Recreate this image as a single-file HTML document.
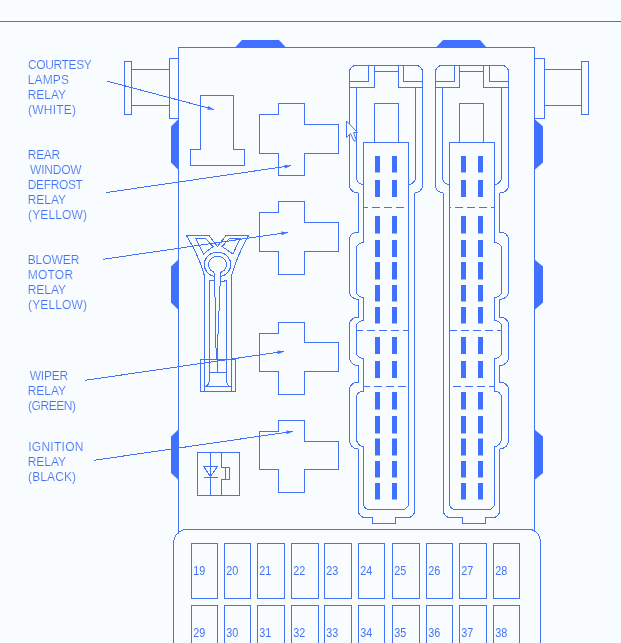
<!DOCTYPE html>
<html><head><meta charset="utf-8"><title>Fuse box relay diagram</title>
<style>
html,body{margin:0;padding:0;background:#f9fcff;}
body{width:621px;height:643px;overflow:hidden;position:relative;}
svg{position:absolute;left:0;top:0;display:block;will-change:transform;opacity:0.999;}
.ln{fill:none;stroke:#4272f6;stroke-width:1;shape-rendering:crispEdges;}
.fl{fill:#4070ff;stroke:none;}
text{font-family:"Liberation Sans",Arial,sans-serif;font-size:12px;fill:#4272f6;stroke:#f9fcff;stroke-width:0.15px;paint-order:fill stroke;}
text.n{stroke:none;}
</style></head><body>
<svg width="621" height="643" viewBox="0 0 621 643">
<rect x="0" y="0" width="621" height="643" fill="#f9fcff"/>
<path class="ln" d="M0,21.5 H621"/>
<g class="fl">
<polygon points="234.5,48 242,40 279,40 286.5,48"/>
<polygon points="435.5,48 443,40 480,40 487,48"/>
<polygon points="178.5,119 171,126.5 171,162.5 178.5,170"/>
<polygon points="534.5,119 543,126.5 543,162.5 534.5,170"/>
<polygon points="178.5,259.5 171,266.5 171,302.5 178.5,310"/>
<polygon points="534.5,259.5 543,266.5 543,302.5 534.5,310"/>
<polygon points="178.5,429.5 171,436.5 171,473 178.5,480"/>
<polygon points="534.5,429.5 543,436.5 543,473 534.5,480"/>
</g>
<path class="ln" d="M178.5,533.5 V47.5 H534.5 V532"/>
<path class="ln" d="M173.5,650 V543.5 A13,14 0 0 1 186.5,529.5 H529.5 A11,13 0 0 1 540.5,542.5 V650"/>
<path class="ln" d="M124.5,61.5 H131.5 V114.5 H124.5 Z M131.5,69.5 H169.5 M131.5,105.5 H169.5 M178.5,58.5 H169.5 V118.5 H178.5"/>
<path class="ln" d="M588.5,61.5 H581.5 V114.5 H588.5 Z M581.5,69.5 H544.5 M581.5,105.5 H544.5 M534.5,58.5 H544.5 V118.5 H534.5"/>
<path class="ln" d="M200.5,95.5 H233.5 V149.5 H244.5 V165.5 H190.5 V149.5 H200.5 Z"/>
<path class="ln" d="M278.5,103.5 H304.5 V124.5 H338.5 V153.5 H304.5 V175.5 H278.5 V153.5 H259.5 V114.5 H278.5 Z"/>
<path class="ln" d="M278.5,201.5 H304.5 V222.5 H338.5 V251.5 H304.5 V274.5 H278.5 V251.5 H259.5 V212.5 H278.5 Z"/>
<path class="ln" d="M278.5,322.5 H304.5 V342.5 H338.5 V371.5 H304.5 V394.5 H278.5 V371.5 H259.5 V333.5 H278.5 Z"/>
<path class="ln" d="M278.5,420.5 H304.5 V441.5 H338.5 V469.5 H304.5 V492.5 H278.5 V469.5 H259.5 V431.5 H278.5 Z"/>
<g class="ln">
<path d="M186.5,235.5 H209 L217.5,246.5 L226,235.5 H248.5 Q236,258 231.5,276 V391.5 M186.5,235.5 Q200,258 204.500,276 V391.5"/>
<path d="M196,238.5 H205.5 L213,246.5 L203.5,254 Z M229.5,238.5 H240 L233,254 L222,246.500 Z"/>
<path d="M214.5,276.500 A13.25,12.3 0 1 1 220.500,276.500"/>
<path d="M214.5,272.500 A8.9,8.3 0 1 1 220.500,272.500"/>
<path d="M214.5,280.5 H209.5 V379 Q209.5,384.500 206,386.500 M220.500,282 L226.5,280.5 V379 Q226.5,384.500 229.5,386.500 M209.5,372.5 H226.5"/>
<path d="M214.5,272.5 V297 M215.500,297 V348 M216.500,348 V360 M220.500,272.5 V285.500 M219.500,285.500 V311 M218.500,311 V334 M217.500,334 V372.5"/>
<path d="M200.5,359.5 H235.5 V391.5 H200.5 Z M204.500,386.500 H231.500"/>
</g>
<path class="ln" d="M197.5,452.5 H239.5 V495.5 H197.5 Z M210.500,452.5 V495.5 M221.500,452.5 V467.500 H229.500 V479.500 H221.500 V495.5 M225.500,467.500 V479.500 M203.500,466.500 H217.500 L210.500,476.500 Z M203.500,477.500 H217.500"/>
<path class="ln" d="M349.5,72 C349.5,68.41 352.41,65.5 356,65.5 L416,65.5 C419.59,65.5 422.5,68.41 422.5,72 L422.5,185.5 C422.5,189.64 418.92,193 414.5,193 L414.5,511 C414.5,514.59 411.59,517.5 408,517.5 L395.5,517.5 L395.5,523.5 L372.5,523.5 L372.5,517.5 L365,517.5 C361.41,517.5 358.5,514.59 358.5,511 L358.5,449 C353.53,449 349.5,445.42 349.5,441 L349.5,389.5 C349.5,385.36 353.53,382 358.5,382 L358.5,365.5 C353.53,365.5 349.5,362.14 349.5,358 L349.5,324.5 C349.5,320.36 353.53,317 358.5,317 L358.5,299.5 C353.53,299.5 349.5,295.92 349.5,291.5 L349.5,239 C349.5,235.13 353.53,232 358.5,232 L358.5,193 C353.53,193 349.5,189.64 349.5,185.5 Z"/>
<path class="ln" d="M356.5,87.5 L356.5,177.5 C356.5,181.37 359.63,184.5 363.5,184.5 L363.5,242.5 C359.63,242.5 356.5,245.19 356.5,248.5 L356.5,291.5 C356.5,294.81 359.63,297.5 363.5,297.5 L363.5,320.5 C359.63,320.5 356.5,323.19 356.5,326.5 L356.5,352.5 C356.5,355.81 359.63,358.5 363.5,358.5 L363.5,391 C359.63,391 356.5,393.91 356.5,397.5 L356.5,438.5 C356.5,442.92 359.63,446.5 363.5,446.5 L363.5,503.5 C363.5,506.81 366.19,509.5 369.5,509.5 L402.5,509.5 C405.81,509.5 408.5,506.81 408.5,503.5 L408.5,142.5 L363.5,142.5 L363.5,184.5"/>
<path class="ln" d="M415.5,87.5 L415.5,177.5 C415.5,181.37 412.37,184.5 408.5,184.5"/>
<path class="ln" d="M368.5,65.5 V81.5 H349.5"/>
<path class="ln" d="M374.5,65.5 V87.5 H349.5"/>
<path class="ln" d="M403.5,65.5 V81.5 H422.5"/>
<path class="ln" d="M398.5,65.5 V87.5 H422.5"/>
<path class="ln" d="M374.5,71.5 H398.5"/>
<path class="ln" d="M374.5,142.5 V103.5 H398.5 V142.5"/>
<path class="ln" stroke-dasharray="8 4" stroke-dashoffset="4" d="M363.5,207.5 H408.5"/>
<path class="ln" stroke-dasharray="8 4" stroke-dashoffset="2" d="M356.5,330.5 H408.5"/>
<path class="ln" stroke-dasharray="8 4" stroke-dashoffset="2" d="M363.5,386.5 H408.5"/>
<g class="fl">
<rect x="375" y="156" width="5" height="16.5"/>
<rect x="392" y="156" width="5" height="16.5"/>
<rect x="375" y="180" width="5" height="17"/>
<rect x="392" y="180" width="5" height="17"/>
<rect x="375" y="216" width="5" height="17.5"/>
<rect x="392" y="216" width="5" height="17.5"/>
<rect x="375" y="240" width="5" height="17"/>
<rect x="392" y="240" width="5" height="17"/>
<rect x="375" y="262" width="5" height="17.5"/>
<rect x="392" y="262" width="5" height="17.5"/>
<rect x="375" y="285" width="5" height="16.5"/>
<rect x="392" y="285" width="5" height="16.5"/>
<rect x="375" y="307" width="5" height="16.5"/>
<rect x="392" y="307" width="5" height="16.5"/>
<rect x="375" y="337" width="5" height="17"/>
<rect x="392" y="337" width="5" height="17"/>
<rect x="375" y="361" width="5" height="17"/>
<rect x="392" y="361" width="5" height="17"/>
<rect x="375" y="392" width="5" height="17.5"/>
<rect x="392" y="392" width="5" height="17.5"/>
<rect x="375" y="416" width="5" height="17.5"/>
<rect x="392" y="416" width="5" height="17.5"/>
<rect x="375" y="438.5" width="5" height="17.0"/>
<rect x="392" y="438.5" width="5" height="17.0"/>
<rect x="375" y="461" width="5" height="16.5"/>
<rect x="392" y="461" width="5" height="16.5"/>
<rect x="375" y="483" width="5" height="16.5"/>
<rect x="392" y="483" width="5" height="16.5"/>
</g>
<path class="ln" d="M508.5,72 C508.5,68.41 505.59,65.5 502,65.5 L442,65.5 C438.41,65.5 435.5,68.41 435.5,72 L435.5,185.5 C435.5,189.64 439.08,193 443.5,193 L443.5,511 C443.5,514.59 446.41,517.5 450,517.5 L462.5,517.5 L462.5,523.5 L485.5,523.5 L485.5,517.5 L493,517.5 C496.59,517.5 499.5,514.59 499.5,511 L499.5,449 C504.47,449 508.5,445.42 508.5,441 L508.5,389.5 C508.5,385.36 504.47,382 499.5,382 L499.5,365.5 C504.47,365.5 508.5,362.14 508.5,358 L508.5,324.5 C508.5,320.36 504.47,317 499.5,317 L499.5,299.5 C504.47,299.5 508.5,295.92 508.5,291.5 L508.5,239 C508.5,235.13 504.47,232 499.5,232 L499.5,193 C504.47,193 508.5,189.64 508.5,185.5 Z"/>
<path class="ln" d="M501.5,87.5 L501.5,177.5 C501.5,181.37 498.37,184.5 494.5,184.5 L494.5,242.5 C498.37,242.5 501.5,245.19 501.5,248.5 L501.5,291.5 C501.5,294.81 498.37,297.5 494.5,297.5 L494.5,320.5 C498.37,320.5 501.5,323.19 501.5,326.5 L501.5,352.5 C501.5,355.81 498.37,358.5 494.5,358.5 L494.5,391 C498.37,391 501.5,393.91 501.5,397.5 L501.5,438.5 C501.5,442.92 498.37,446.5 494.5,446.5 L494.5,503.5 C494.5,506.81 491.81,509.5 488.5,509.5 L455.5,509.5 C452.19,509.5 449.5,506.81 449.5,503.5 L449.5,142.5 L494.5,142.5 L494.5,184.5"/>
<path class="ln" d="M442.5,87.5 L442.5,177.5 C442.5,181.37 445.63,184.5 449.5,184.5"/>
<path class="ln" d="M489.5,65.5 V81.5 H508.5"/>
<path class="ln" d="M483.5,65.5 V87.5 H508.5"/>
<path class="ln" d="M454.5,65.5 V81.5 H435.5"/>
<path class="ln" d="M459.5,65.5 V87.5 H435.5"/>
<path class="ln" d="M483.5,71.5 H459.5"/>
<path class="ln" d="M483.5,142.5 V103.5 H459.5 V142.5"/>
<path class="ln" stroke-dasharray="8 4" stroke-dashoffset="4" d="M494.5,207.5 H449.5"/>
<path class="ln" stroke-dasharray="8 4" stroke-dashoffset="1" d="M449.5,330.5 H501.5"/>
<path class="ln" stroke-dasharray="8 4" stroke-dashoffset="2" d="M494.5,386.5 H449.5"/>
<g class="fl">
<rect x="478" y="156" width="5" height="16.5"/>
<rect x="461" y="156" width="5" height="16.5"/>
<rect x="478" y="180" width="5" height="17"/>
<rect x="461" y="180" width="5" height="17"/>
<rect x="478" y="216" width="5" height="17.5"/>
<rect x="461" y="216" width="5" height="17.5"/>
<rect x="478" y="240" width="5" height="17"/>
<rect x="461" y="240" width="5" height="17"/>
<rect x="478" y="262" width="5" height="17.5"/>
<rect x="461" y="262" width="5" height="17.5"/>
<rect x="478" y="285" width="5" height="16.5"/>
<rect x="461" y="285" width="5" height="16.5"/>
<rect x="478" y="307" width="5" height="16.5"/>
<rect x="461" y="307" width="5" height="16.5"/>
<rect x="478" y="337" width="5" height="17"/>
<rect x="461" y="337" width="5" height="17"/>
<rect x="478" y="361" width="5" height="17"/>
<rect x="461" y="361" width="5" height="17"/>
<rect x="478" y="392" width="5" height="17.5"/>
<rect x="461" y="392" width="5" height="17.5"/>
<rect x="478" y="416" width="5" height="17.5"/>
<rect x="461" y="416" width="5" height="17.5"/>
<rect x="478" y="438.5" width="5" height="17.0"/>
<rect x="461" y="438.5" width="5" height="17.0"/>
<rect x="478" y="461" width="5" height="16.5"/>
<rect x="461" y="461" width="5" height="16.5"/>
<rect x="478" y="483" width="5" height="16.5"/>
<rect x="461" y="483" width="5" height="16.5"/>
</g>
<path class="ln" d="M107,81.1 L214,109.5"/>
<polygon class="fl" points="214.0,109.5 207.2,109.7 208.2,106.0"/>
<path class="ln" d="M106.5,192.5 L291.1,165.7"/>
<polygon class="fl" points="291.1,165.7 284.9,168.5 284.4,164.8"/>
<path class="ln" d="M102.9,259.3 L287.8,232.4"/>
<polygon class="fl" points="287.8,232.4 281.6,235.2 281.1,231.5"/>
<path class="ln" d="M85.1,380.3 L284,351.4"/>
<polygon class="fl" points="284.0,351.4 277.8,354.2 277.3,350.5"/>
<path class="ln" d="M94,460.3 L292.9,431.4"/>
<polygon class="fl" points="292.9,431.4 286.7,434.2 286.2,430.5"/>
<path class="ln" d="M191.5,543.5 H217.5 V598.5 H191.5 Z M191.5,650 V605.5 H217.5 V650"/>
<text class="n" transform="translate(193.2,574.8) scale(0.9,1)">19</text>
<text class="n" transform="translate(193.2,636.5) scale(0.9,1)">29</text>
<path class="ln" d="M224.5,543.5 H250.5 V598.5 H224.5 Z M224.5,650 V605.5 H250.5 V650"/>
<text class="n" transform="translate(226.2,574.8) scale(0.9,1)">20</text>
<text class="n" transform="translate(226.2,636.5) scale(0.9,1)">30</text>
<path class="ln" d="M257.5,543.5 H284.5 V598.5 H257.5 Z M257.5,650 V605.5 H284.5 V650"/>
<text class="n" transform="translate(259.2,574.8) scale(0.9,1)">21</text>
<text class="n" transform="translate(259.2,636.5) scale(0.9,1)">31</text>
<path class="ln" d="M291.5,543.5 H318.5 V598.5 H291.5 Z M291.5,650 V605.5 H318.5 V650"/>
<text class="n" transform="translate(293.2,574.8) scale(0.9,1)">22</text>
<text class="n" transform="translate(293.2,636.5) scale(0.9,1)">32</text>
<path class="ln" d="M324.5,543.5 H351.5 V598.5 H324.5 Z M324.5,650 V605.5 H351.5 V650"/>
<text class="n" transform="translate(326.2,574.8) scale(0.9,1)">23</text>
<text class="n" transform="translate(326.2,636.5) scale(0.9,1)">33</text>
<path class="ln" d="M358.5,543.5 H384.5 V598.5 H358.5 Z M358.5,650 V605.5 H384.5 V650"/>
<text class="n" transform="translate(360.2,574.8) scale(0.9,1)">24</text>
<text class="n" transform="translate(360.2,636.5) scale(0.9,1)">34</text>
<path class="ln" d="M392.5,543.5 H419.5 V598.5 H392.5 Z M392.5,650 V605.5 H419.5 V650"/>
<text class="n" transform="translate(394.2,574.8) scale(0.9,1)">25</text>
<text class="n" transform="translate(394.2,636.5) scale(0.9,1)">35</text>
<path class="ln" d="M426.5,543.5 H452.5 V598.5 H426.5 Z M426.5,650 V605.5 H452.5 V650"/>
<text class="n" transform="translate(428.2,574.8) scale(0.9,1)">26</text>
<text class="n" transform="translate(428.2,636.5) scale(0.9,1)">36</text>
<path class="ln" d="M459.5,543.5 H486.5 V598.5 H459.5 Z M459.5,650 V605.5 H486.5 V650"/>
<text class="n" transform="translate(461.2,574.8) scale(0.9,1)">27</text>
<text class="n" transform="translate(461.2,636.5) scale(0.9,1)">37</text>
<path class="ln" d="M493.5,543.5 H519.5 V598.5 H493.5 Z M493.5,650 V605.5 H519.5 V650"/>
<text class="n" transform="translate(495.2,574.8) scale(0.9,1)">28</text>
<text class="n" transform="translate(495.2,636.5) scale(0.9,1)">38</text>
<text x="28.05" y="68.8" style="letter-spacing:-0.393px">COURTESY</text>
<text x="27.68" y="83.8" style="letter-spacing:0.156px">LAMPS</text>
<text x="27.68" y="98.8" style="letter-spacing:-0.031px">RELAY</text>
<text x="28.12" y="113.8" style="letter-spacing:0.208px">(WHITE)</text>
<text x="27.77" y="158.8" style="letter-spacing:-0.292px">REAR</text>
<text x="30.05" y="173.8" style="letter-spacing:-0.2px">WINDOW</text>
<text x="27.77" y="188.8" style="letter-spacing:-0.375px">DEFROST</text>
<text x="27.68" y="203.8" style="letter-spacing:-0.031px">RELAY</text>
<text x="28.02" y="218.8" style="letter-spacing:0.143px">(YELLOW)</text>
<text x="27.68" y="263.8" style="letter-spacing:-0.075px">BLOWER</text>
<text x="27.68" y="278.8" style="letter-spacing:0.25px">MOTOR</text>
<text x="27.68" y="293.8" style="letter-spacing:-0.031px">RELAY</text>
<text x="28.02" y="308.8" style="letter-spacing:0.143px">(YELLOW)</text>
<text x="29.7" y="380" style="letter-spacing:-0.187px">WIPER</text>
<text x="27.68" y="395" style="letter-spacing:-0.031px">RELAY</text>
<text x="28.07" y="410" style="letter-spacing:-0.458px">(GREEN)</text>
<text x="28.15" y="450.8" style="letter-spacing:0.286px">IGNITION</text>
<text x="27.68" y="465.8" style="letter-spacing:-0.031px">RELAY</text>
<text x="28.07" y="480.8" style="letter-spacing:0.104px">(BLACK)</text>
<path d="M346.5,121 V137.5 L350.500,133.500 L354,141 L356.500,140.500 L353.500,132.500 H357.500 Z" fill="#fbfdff" stroke="#4272f6" stroke-width="1"/>
</svg></body></html>
